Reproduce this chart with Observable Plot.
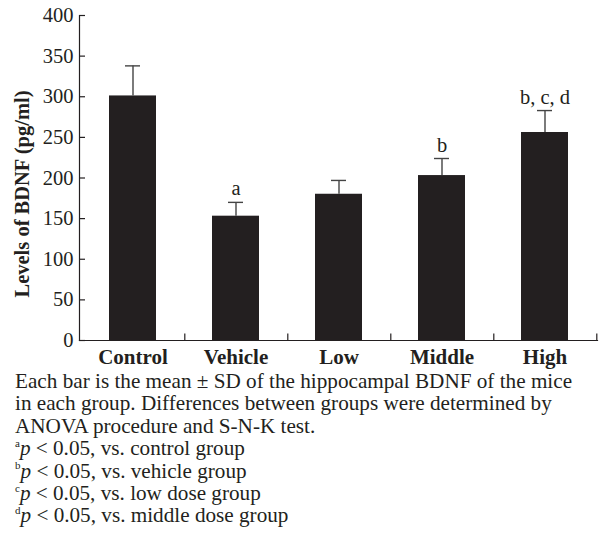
<!DOCTYPE html>
<html>
<head>
<meta charset="utf-8">
<script src="https://cdn.jsdelivr.net/npm/d3@7"></script>
<script src="https://cdn.jsdelivr.net/npm/@observablehq/plot@0.6"></script>
<style>
  body { margin: 0; background: #fff; }
  #wrap { width: 602px; font-family: "Liberation Serif", "DejaVu Serif", serif; color: #231f20; }
  #caption { padding-left: 15px; font-size: 21.2px; line-height: 22.4px; margin-top: -2px; white-space: nowrap; }
  #caption .s { font-size: 11px; line-height: 0; position: relative; top: -0.75em; }
</style>
</head>
<body>
<div id="wrap">
  <div id="chart"></div>
  <div id="caption">
    Each bar is the mean ± SD of the hippocampal BDNF of the mice<br>
    in each group. Differences between groups were determined by<br>
    ANOVA procedure and S-N-K test.<br>
    <span class="s">a</span><i>p</i> &lt; 0.05, vs. control group<br>
    <span class="s">b</span><i>p</i> &lt; 0.05, vs. vehicle group<br>
    <span class="s">c</span><i>p</i> &lt; 0.05, vs. low dose group<br>
    <span class="s">d</span><i>p</i> &lt; 0.05, vs. middle dose group
  </div>
</div>
<script>
const groups = ["Control", "Vehicle", "Low", "Middle", "High"];
const means = [301, 153, 180, 203, 256];
const sds = [37, 17, 17, 21, 27];
const marks = ["", "a", "", "b", "b, c, d"];
const yTicks = [0, 50, 100, 150, 200, 250, 300, 350, 400];

const data = groups.map((g, i) => ({group: g, mean: means[i], sd: sds[i], mark: marks[i]}));

const W = 602, ML = 79, MR = 5;
const plotW = W - ML - MR;
const step = plotW / groups.length;
const ink = "#231f20";

const chart = Plot.plot({
  width: W,
  height: 372,
  marginLeft: ML,
  marginRight: MR,
  marginTop: 15,
  marginBottom: 32,
  style: {fontFamily: "Liberation Serif, serif", color: ink, background: "#fff"},
  x: {domain: groups, paddingInner: 0.546, paddingOuter: 0.273, label: null},
  y: {domain: [0, 400], label: null},
  marks: [
    Plot.barY(data, {x: "group", y: "mean", fill: ink}),
    Plot.ruleX(data, {x: "group", y1: "mean", y2: d => d.mean + d.sd, stroke: "#444", strokeWidth: 1.4}),
    Plot.tickY(data, {x: "group", y: d => d.mean + d.sd, stroke: "#444", strokeWidth: 1.4, inset: 16}),
    Plot.text(data, {x: "group", y: d => d.mean + d.sd, text: "mark", lineAnchor: "bottom", dy: -7, fontSize: 20.5, fill: ink}),
    Plot.frame({anchor: "left", stroke: ink, strokeWidth: 1.2}),
    Plot.frame({anchor: "bottom", stroke: ink, strokeWidth: 1.2}),
    Plot.ruleY(yTicks, {y: d => d, insetRight: plotW - 6, stroke: ink, strokeWidth: 1.2}),
    Plot.ruleX(groups, {x: d => d, dx: step / 2, y1: 0, y2: 8, stroke: ink, strokeWidth: 1.2}),
    Plot.axisY({ticks: yTicks, tickSize: 0, tickPadding: 6, fontSize: 20.5, label: null, tickFormat: d => String(d)}),
    Plot.axisX({tickSize: 0, tickPadding: 9, fontSize: 21, fontWeight: "bold", label: null}),
    Plot.text(["Levels of BDNF (pg/ml)"], {frameAnchor: "left", textAnchor: "middle", rotate: -90, dx: -57, dy: 16, fontSize: 20.5, fontWeight: "bold", fill: ink})
  ]
});
document.getElementById("chart").appendChild(chart);
</script>
</body>
</html>
